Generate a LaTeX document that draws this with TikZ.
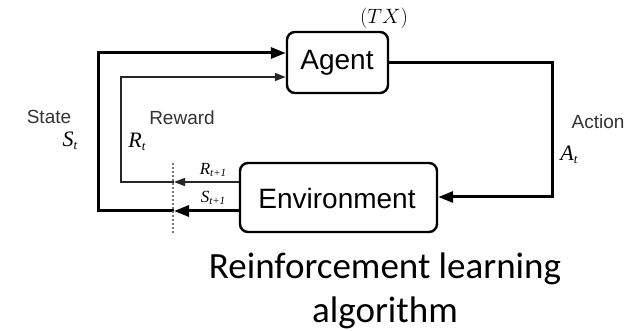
\documentclass[tikz,border=0pt]{standalone}
\usepackage{fontspec}
\setmainfont{Liberation Sans}
\newfontfamily\tms{Liberation Serif}
\newfontfamily\calfont{Carlito}
\usetikzlibrary{arrows.meta}
\newcommand{\mlab}[4]{{\tms\itshape\fontsize{#3}{#3}\selectfont #1\raisebox{-0.3ex}{\fontsize{#4}{#4}\selectfont #2}}}
\tikzset{
  box/.style={draw=black, line width=2.4pt, rounded corners=8pt, fill=white, inner sep=0pt},
  thick line/.style={line width=3pt, draw=black},
  thin line/.style={line width=1.6pt, draw=black!85},
  bigtip/.style={-{Triangle[length=15pt,width=11pt]}},
  smalltip/.style={-{Triangle[length=11pt,width=8pt]}},
  lbl/.style={font=\fontsize{19}{20}\selectfont, text=black!80, inner sep=0pt},
  cut/.style={draw=black!55, line width=1.1pt, dash pattern=on 2pt off 2pt}
}
\begin{document}
\begin{tikzpicture}[x=1pt,y=-1pt]
\useasboundingbox (0,0) rectangle (625,331);
% boxes
\node[box, minimum width=101pt, minimum height=61pt] (agent) at (337.5,62.5) {};
\node[font=\fontsize{28}{30}\selectfont, inner sep=0pt] (agentt) at (337,63) {Agent};
\node[box, minimum width=197pt, minimum height=69pt] (env) at (338.5,197.5) {};
\node[font=\fontsize{28}{30}\selectfont, inner sep=0pt] (envt) at (337,198) {Environment};
% coordinates
\coordinate (tl) at (98,53);
\coordinate (bl) at (98,211);
\coordinate (itl) at (121,77);
\coordinate (ibl) at (121,182);
\coordinate (cs) at (174,211);
\coordinate (cr) at (174,182);
\coordinate (ar) at (552,63);
\coordinate (br) at (552,197);
\coordinate (d1) at (173,163);
\coordinate (d2) at (173,234);
% state loop
\draw[thick line, bigtip] (cs) -- (bl) -- (tl) -- (tl -| agent.west);
\draw[thick line, bigtip] (env.west |- cs) -- (cs);
% reward loop
\draw[thin line, smalltip] (cr) -- (ibl) -- (itl) -- (itl -| agent.west);
\draw[thin line, smalltip] (env.west |- cr) -- (cr);
% action
\draw[thick line, bigtip] (agent.east |- ar) -- (ar) -- (br) -- (br -| env.east);
% dotted cut
\draw[cut] (d1) -- (d2);
% labels
\node[font=\fontsize{21}{22}\selectfont, inner sep=0pt] (tx) at (384,18) {$(TX)$};
\node[lbl] (state) at (49,117) {State};
\node[inner sep=0pt] (st) at (70,141) {\mlab{S}{t}{22}{13}};
\node[lbl] (reward) at (182,118) {Reward};
\node[inner sep=0pt] (rt) at (137,142) {\mlab{R}{t}{22}{13}};
\node[inner sep=0pt] (rt1) at (213,170) {\mlab{R}{t+1}{17}{11}};
\node[inner sep=0pt] (st1) at (213,198) {\mlab{S}{t+1}{17}{11}};
\node[lbl] (action) at (598,122) {Action};
\node[inner sep=0pt] (at) at (569,155) {\mlab{A}{t}{22}{13}};
\node[font=\calfont\fontsize{37}{44}\selectfont, align=center, inner sep=0pt, anchor=north] (cap) at (385,253) {Reinforcement learning\\algorithm};
\end{tikzpicture}
\end{document}
